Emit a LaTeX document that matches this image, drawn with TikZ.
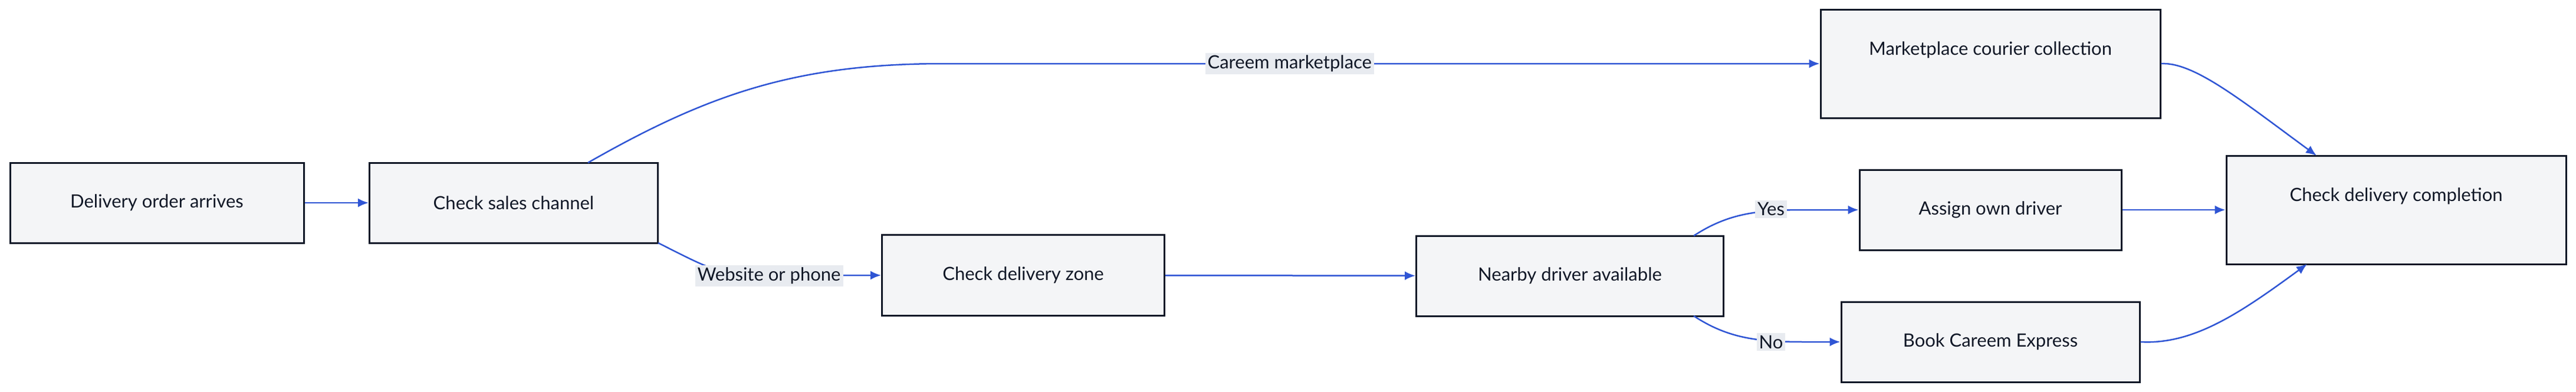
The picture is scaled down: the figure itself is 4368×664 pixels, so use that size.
\documentclass[tikz,border=0pt]{standalone}
\usepackage{fontspec}
\setmainfont{Lato}
\usetikzlibrary{arrows.meta}
\definecolor{boxfill}{HTML}{F4F5F7}
\definecolor{boxdraw}{HTML}{111827}
\definecolor{edge}{HTML}{2F55D4}
\definecolor{lblbg}{HTML}{E8EBF0}
\begin{document}
\begin{tikzpicture}[x=1pt,y=-1pt,
  box/.style={draw=boxdraw,line width=3pt,fill=boxfill,inner sep=0pt,font=\fontsize{31}{36}\selectfont\color{boxdraw}},
  e/.style={draw=edge,line width=2.5pt,-{Latex[length=18pt,width=15pt]}},
  lbl/.style={fill=lblbg,inner sep=4pt,font=\fontsize{31}{36}\selectfont\color{boxdraw}}]
\useasboundingbox (0,0) rectangle (4368,664);
\node[box,minimum width=498pt,minimum height=136pt] (a) at (266,344) {Delivery order arrives};
\node[box,minimum width=489pt,minimum height=136pt] (b) at (871,344) {Check sales channel};
\node[box,minimum width=479pt,minimum height=137pt] (z) at (1735,467) {Check delivery zone};
\node[box,minimum width=521pt,minimum height=136pt] (n) at (2662,468) {Nearby driver available};
\node[box,minimum width=576pt,minimum height=184pt] (m) at (3375,108) {};
\node[font=\fontsize{31}{36}\selectfont\color{boxdraw}] (mt) at (3375,85) {Marketplace courier collection};
\node[box,minimum width=444pt,minimum height=136pt] (s) at (3375,356) {Assign own driver};
\node[box,minimum width=506pt,minimum height=136pt] (k) at (3375,580) {Book Careem Express};
\node[box,minimum width=576pt,minimum height=184pt] (c) at (4063,356) {};
\node[font=\fontsize{31}{36}\selectfont\color{boxdraw}] (ct) at (4063,333) {Check delivery completion};
\coordinate (b1) at (997,276);
\coordinate (b2) at (1116,412);
\coordinate (n1) at (2872,400);
\coordinate (n2) at (2872,536);
\coordinate (c1) at (3928,264);
\coordinate (c2) at (3912,448);
\draw[e] (a) -- (b);
\draw[e] (b1) .. controls (1200,160) and (1350,108) .. (1600,108) -- node[lbl,pos=0.395]{Careem marketplace} (m.west);
\draw[e] (b2) .. controls (1230,470) .. (1350,467) -- (z.west);
\node[lbl] (l1) at (1304,468) {Website or phone};
\draw[e] (z) -- (n);
\draw[e] (n1) .. controls (2930,362) and (2980,356) .. (3060,356) -- (s.west);
\node[lbl] (l2) at (3003,355) {Yes};
\draw[e] (n2) .. controls (2930,574) and (2980,580) .. (3060,580) -- (k.west);
\node[lbl] (l3) at (3003,580) {No};
\draw[e] (s) -- (c);
\draw[e] (m.east) .. controls (3720,105) and (3800,170) .. (c1);
\draw[e] (k.east) .. controls (3720,585) and (3800,530) .. (c2);
\end{tikzpicture}
\end{document}
